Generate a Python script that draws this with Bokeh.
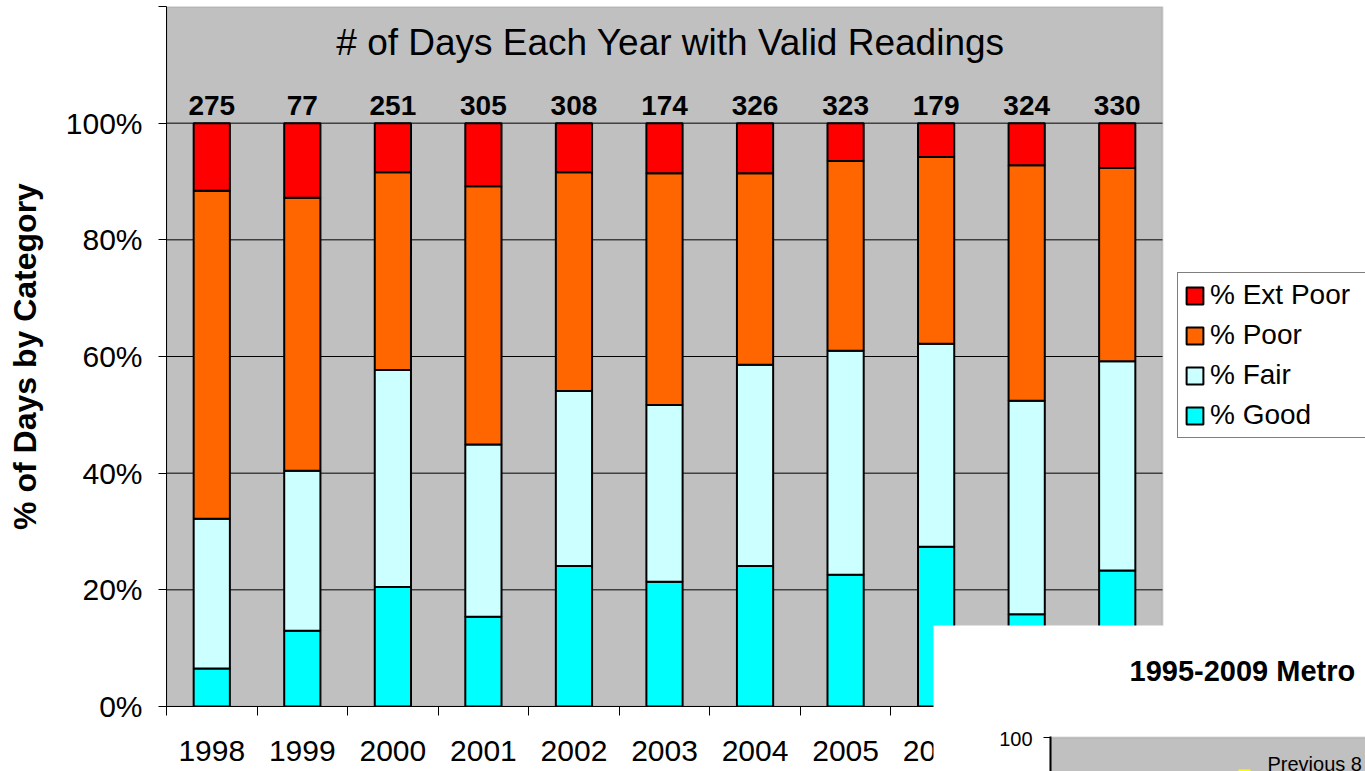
from bokeh.plotting import figure
from bokeh.models import (ColumnDataSource, Range1d, FixedTicker, Legend, LegendItem,
                          Label, BoxAnnotation)
from bokeh.core.properties import value
from bokeh.embed import file_html
from bokeh.resources import INLINE

# ---------------- data ----------------
years = ["1998", "1999", "2000", "2001", "2002", "2003", "2004", "2005", "2006", "2007", "2008"]
days_valid = [275, 77, 251, 305, 308, 174, 326, 323, 179, 324, 330]
pct_good = [6.5, 13.0, 20.5, 15.4, 24.1, 21.4, 24.1, 22.6, 27.4, 15.8, 23.3]
pct_fair = [25.7, 27.4, 37.2, 29.5, 30.0, 30.3, 34.5, 38.4, 34.8, 36.6, 35.9]
pct_poor = [56.2, 46.8, 33.9, 44.3, 37.5, 39.7, 32.8, 32.5, 32.0, 40.4, 33.1]
pct_ext_poor = [11.6, 12.8, 8.4, 10.8, 8.4, 8.6, 8.6, 6.5, 5.8, 7.2, 7.7]
y_ticks = [0, 20, 40, 60, 80, 100, 120]
y_tick_labels = ["0%", "20%", "40%", "60%", "80%", "100%", ""]
series_names = ["% Good", "% Fair", "% Poor", "% Ext Poor"]
series_colors = ["#00FFFF", "#CCFFFF", "#FF6600", "#FF0000"]
chart_title = "# of Days Each Year with Valid Readings"
inset_title = "1995-2009 Metro"
inset_tick = "100"
inset_legend_text = "Previous 8"

FONT = "Liberation Sans"
W, H = 1365, 771
LEFT, TOP, BOTTOM = 166, 6, 65
PLOT_AREA_W = 996          # width of the grey plot area in pixels

n = len(years)
xs = list(range(1, n + 1))
x_lo, x_hi = 0.5, n + 0.5
x_end = x_lo + (W - LEFT) * (x_hi - x_lo) / PLOT_AREA_W
tops = [g + f + p + e for g, f, p, e in zip(pct_good, pct_fair, pct_poor, pct_ext_poor)]
source = ColumnDataSource(dict(x=xs, good=pct_good, fair=pct_fair, poor=pct_poor,
                               ext=pct_ext_poor, top=tops,
                               days=[str(d) for d in days_valid]))

p = figure(width=W, height=H, output_backend="svg", toolbar_location=None,
           x_range=Range1d(x_lo, x_end), y_range=Range1d(0, y_ticks[-1]),
           min_border_left=LEFT, min_border_right=0, min_border_top=TOP,
           min_border_bottom=BOTTOM)

p.background_fill_color = "white"
p.border_fill_color = "white"
p.outline_line_color = None

# grey plot area (only over the category span)
p.add_layout(BoxAnnotation(left=x_lo, right=x_hi, bottom=0, top=y_ticks[-1],
                           fill_color="#C0C0C0", fill_alpha=1,
                           line_color="#808080", line_width=2, level="underlay"))

# horizontal gridlines across the plot area
grid_y = y_ticks[1:-1]
p.segment(x0=[x_lo] * len(grid_y), x1=[x_hi] * len(grid_y), y0=grid_y, y1=grid_y,
          line_color="black", line_width=1)

renderers = p.vbar_stack(["good", "fair", "poor", "ext"], x="x", width=0.4, source=source,
                         fill_color=series_colors, line_color="black", line_width=2)

# counts above bars
p.text(x="x", y="top", text="days", source=source, text_align="center",
       text_baseline="alphabetic", y_offset=-18, text_font=value(FONT),
       text_font_style="bold", text_font_size="28px", text_color="black")

# title inside the plot area
p.add_layout(Label(x=(x_lo + x_hi) / 2, y=113.8, text=chart_title, x_offset=6,
                   text_align="center", text_baseline="alphabetic",
                   text_font=FONT, text_font_size="37px", text_color="black"))

# x axis
xa = p.xaxis[0]
xa.bounds = (x_lo, x_hi)
xa.ticker = FixedTicker(ticks=xs, minor_ticks=[x - 0.5 for x in xs] + [xs[-1] + 0.5])
xa.major_label_overrides = {x: y for x, y in zip(xs, years)}
xa.major_tick_line_color = None
xa.major_tick_out = 0
xa.major_tick_in = 0
xa.minor_tick_line_color = "black"
xa.minor_tick_out = 9
xa.minor_tick_in = 0
xa.major_label_standoff = 25
xa.major_label_text_font = FONT
xa.major_label_text_font_size = "30px"
xa.major_label_text_color = "black"
xa.axis_line_color = "black"

# y axis
ya = p.yaxis[0]
ya.ticker = FixedTicker(ticks=y_ticks)
ya.major_label_overrides = {t: l for t, l in zip(y_ticks, y_tick_labels)}
ya.minor_tick_line_color = None
ya.major_tick_out = 8
ya.major_tick_in = 0
ya.major_tick_line_color = "black"
ya.major_label_standoff = 16
ya.major_label_text_font = FONT
ya.major_label_text_font_size = "30px"
ya.major_label_text_color = "black"
ya.axis_line_color = "black"
ya.axis_label = "% of Days by Category"
ya.axis_label_text_font = FONT
ya.axis_label_text_font_style = "bold"
ya.axis_label_text_font_size = "32px"
ya.axis_label_text_color = "black"
ya.axis_label_standoff = 20

p.xgrid.visible = False
p.ygrid.visible = False

# legend (top item = last stacked series), to the right of the grey area
items = [LegendItem(label=nm, renderers=[r]) for nm, r in zip(series_names, renderers)][::-1]
legend = Legend(items=items, location=(PLOT_AREA_W + 15, 268), orientation="vertical",
                label_text_font=FONT, label_text_font_size="28px",
                label_text_color="black", glyph_width=21, glyph_height=21,
                label_standoff=5, spacing=8, padding=6, margin=0, label_width=260,
                border_line_color="black", border_line_width=1,
                background_fill_color="white", background_fill_alpha=1)
p.add_layout(legend, "center")

# ---------------- overlapping inset chart fragment (bottom right) ----------------
INSET_W, INSET_H = 432, 146
p2 = figure(width=INSET_W, height=INSET_H, output_backend="svg", toolbar_location=None,
            x_range=Range1d(0, INSET_W), y_range=Range1d(0, INSET_H),
            x_axis_type=None, y_axis_type=None, min_border=0)
p2.background_fill_color = "white"
p2.border_fill_color = "white"
p2.outline_line_color = None
p2.grid.visible = False

p2.add_layout(BoxAnnotation(left=117, right=INSET_W + 20, top=34, bottom=-20,
                            fill_color="#C0C0C0", fill_alpha=1,
                            line_color="#808080", line_width=2))
p2.add_layout(BoxAnnotation(left=116, right=118, top=35, bottom=-20,
                            fill_color="black", fill_alpha=1, line_color=None))
p2.add_layout(BoxAnnotation(left=110, right=117, top=34.5, bottom=33.5,
                            fill_color="black", fill_alpha=1, line_color=None))
p2.add_layout(BoxAnnotation(left=305, right=317, top=2, bottom=-20,
                            fill_color="yellow", fill_alpha=1, line_color=None))
p2.add_layout(Label(x=196, y=101, text=inset_title,
                    text_align="left", text_baseline="middle", text_font=FONT,
                    text_font_style="bold", text_font_size="29px", text_color="black"))
p2.add_layout(Label(x=99, y=33, text=inset_tick,
                    text_align="right", text_baseline="middle", text_font=FONT,
                    text_font_size="20px", text_color="black"))
p2.add_layout(Label(x=334, y=8, text=inset_legend_text,
                    text_align="left", text_baseline="middle", text_font=FONT,
                    text_font_size="20px", text_color="black"))
p2.styles = {"position": "absolute", "left": f"{W - INSET_W}px",
             "top": f"{H - INSET_H}px", "z-index": "10"}

open("out.html", "w").write(file_html([p, p2], INLINE))
